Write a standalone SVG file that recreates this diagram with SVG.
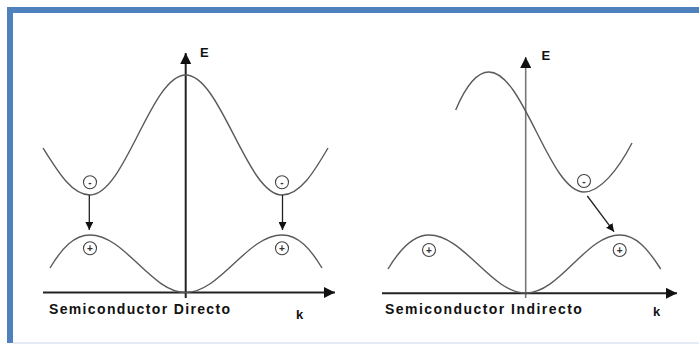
<svg xmlns="http://www.w3.org/2000/svg" width="699" height="345" viewBox="0 0 699 345">
<defs>
<style>
.axis{stroke:#222;stroke-width:2;fill:none}
.axis2{stroke:#777;stroke-width:1.6;fill:none}
.band{stroke:#5a5a5a;stroke-width:1.4;fill:none}
.circ{stroke:#444;stroke-width:1.1;fill:#fff}
.sign{font-family:"Liberation Sans",Arial,sans-serif;font-size:10px;font-weight:bold;fill:#333;text-anchor:middle}
.lbl{font-family:"Liberation Sans",Arial,sans-serif;font-weight:bold;fill:#111}
.tr{stroke:#222;stroke-width:1.3;fill:none}
</style>
<marker id="ah" viewBox="0 0 10 10" refX="10" refY="5" markerWidth="8" markerHeight="8" markerUnits="userSpaceOnUse" orient="auto">
<path d="M0,0 L10,5 L0,10 z" fill="#111"/>
</marker>
<marker id="axh" viewBox="0 0 10 10" refX="10" refY="5" markerWidth="11" markerHeight="11" markerUnits="userSpaceOnUse" orient="auto">
<path d="M0,0 L10,5 L0,10 z" fill="#111"/>
</marker>
</defs>
<rect x="0" y="0" width="699" height="345" fill="#fff"/>
<g id="frame">
<rect x="7" y="7" width="692" height="6" fill="#4f81bd"/>
<rect x="7" y="7" width="6" height="336" fill="#4f81bd"/>
<line x1="13" y1="343" x2="699" y2="343" stroke="#dbe5f1" stroke-width="1.5"/>
</g>
<g id="direct">
<g id="axes-direct">
<line class="axis" x1="185.7" y1="298" x2="185.7" y2="53" marker-end="url(#axh)"/>
<line class="axis" x1="43" y1="292.5" x2="335" y2="292.5" marker-end="url(#axh)"/>
<text class="lbl" x="200" y="57" font-size="13">E</text>
<text class="lbl" x="296" y="319" font-size="13">k</text>
<text class="lbl" x="49" y="314" font-size="14" letter-spacing="1.35">Semiconductor Directo</text>
</g>
<g id="bands-direct">
<path class="band" d="M43,148 C58,172 72,195 90,195 C125,195 151,75 185.7,75 C220.6,75 247,195 282,195 C300,195 314,172 328,148"/>
<path class="band" d="M50,268 C62,248 74,235 90,235 C125,235 151,292.5 185.7,292.5 C220.6,292.5 247,235 282,235 C298,235 310,248 322,268"/>
</g>
<g id="carriers-direct">
<circle class="circ" cx="90" cy="182.3" r="6.5"/><text class="sign" x="90" y="185.8">-</text>
<circle class="circ" cx="90" cy="248.3" r="6.5"/><text class="sign" x="90" y="251.8">+</text>
<circle class="circ" cx="282" cy="182.3" r="6.5"/><text class="sign" x="282" y="185.8">-</text>
<circle class="circ" cx="282" cy="248.3" r="6.5"/><text class="sign" x="282" y="251.8">+</text>
</g>
<g id="transitions-direct">
<line class="tr" x1="89.3" y1="195" x2="89.3" y2="230" marker-end="url(#ah)"/>
<line class="tr" x1="282.5" y1="195" x2="282.5" y2="230" stroke-width="1" marker-end="url(#ah)"/>
</g>
</g>
<g id="indirect">
<g id="axes-indirect">
<line class="axis2" x1="525.7" y1="298" x2="525.7" y2="57" marker-end="url(#axh)"/>
<line class="axis" x1="382" y1="293.3" x2="677" y2="293.3" marker-end="url(#axh)"/>
<text class="lbl" x="541.5" y="60" font-size="13">E</text>
<text class="lbl" x="653" y="316" font-size="13">k</text>
<text class="lbl" x="385" y="314" font-size="14" letter-spacing="1.45">Semiconductor Indirecto</text>
</g>
<g id="bands-indirect">
<path class="band" d="M455.7,110 C462,95 474,72 489,72 C523.6,72 549.4,192 584,192 C600,192 618,170 632,143"/>
<path class="band" d="M388,269 C400,249 413,235 429,235 C464,235 491,293 525.7,293 C560,293 586,235 619.7,235 C636,235 648,249 660.7,269"/>
</g>
<g id="carriers-indirect">
<circle class="circ" cx="584" cy="181" r="6.5"/><text class="sign" x="584" y="184.5">-</text>
<circle class="circ" cx="429" cy="250" r="6.5"/><text class="sign" x="429" y="253.5">+</text>
<circle class="circ" cx="619.7" cy="250" r="6.5"/><text class="sign" x="619.7" y="253.5">+</text>
</g>
<g id="transitions-indirect">
<line class="tr" x1="587.3" y1="196" x2="614" y2="231.7" marker-end="url(#ah)"/>
</g>
</g>
</svg>
